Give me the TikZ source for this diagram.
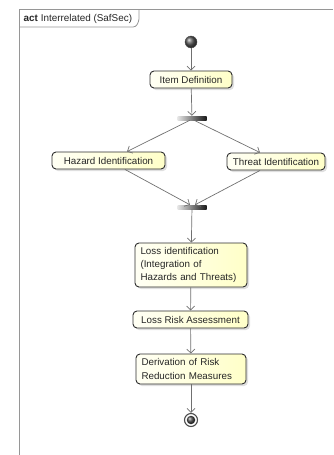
\documentclass[tikz,border=0pt]{standalone}
\usepackage{fontspec}
\setmainfont{Liberation Sans}
\usetikzlibrary{arrows.meta,shadows}
\definecolor{linegray}{RGB}{112,112,112}
\definecolor{framegray}{RGB}{150,150,150}
\definecolor{boxline}{RGB}{45,45,45}
\definecolor{boxlight}{RGB}{255,255,244}
\definecolor{boxyellow}{RGB}{255,255,200}
\tikzset{
  action/.style={draw=boxline, line width=0.9pt, rounded corners=4pt,
    left color=boxlight, right color=boxyellow,
    drop shadow={shadow xshift=2pt, shadow yshift=-2pt, opacity=0.25},
    font=\fontsize{9.8}{13.3}\selectfont, text=black!85, inner sep=0pt},
  multiline/.style={align=left, inner xsep=5.5pt},
  flow/.style={draw=linegray, line width=0.7pt, -{Straight Barb[length=4pt,width=8pt]}},
  syncbar/.style={rectangle, minimum width=29pt, minimum height=4pt, inner sep=0pt,
    left color=gray!20, middle color=gray!70, right color=black!90, draw=none},
  framestroke/.style={draw=framegray, line width=0.8pt},
}
\begin{document}
\begin{tikzpicture}[x=1pt, y=-1pt]
\useasboundingbox (0,0) rectangle (333,455);

% diagram frame with its name tab
\draw[framestroke] (19,455) -- (19,9.5) -- (333,9.5);
\draw[framestroke] (19,27) -- (133,27) to[out=0, in=-100] (139,19) -- (139,9.5);
\node[anchor=west, inner sep=0pt, font=\fontsize{9.9}{11}\selectfont, text=black!85] (title) at (23.5,18.5) {\textbf{act} Interrelated (SafSec)};

% initial node
\node[circle, minimum size=12pt, inner sep=0pt, ball color=black!65, draw=black!70, line width=0.4pt] (init) at (191,42) {};

% actions
\node[action, minimum width=82pt, minimum height=17pt] (item) at (191,79.5) {Item Definition};
\node[syncbar] (fork) at (192,118) {};
\node[action, minimum width=113pt, minimum height=17pt] (hazard) at (108.5,160.5) {Hazard Identification};
\node[action, minimum width=98pt, minimum height=17pt] (threat) at (276,161.5) {Threat Identification};
\node[syncbar] (join) at (192,207) {};
\node[action, multiline, text width=101pt, minimum height=44pt] (lossid) at (191,265)
  {Loss identification\\(Integration of\\Hazards and Threats)};
\node[action, minimum width=115pt, minimum height=17pt] (lossrisk) at (190.5,319.5) {Loss Risk Assessment};
\node[action, multiline, text width=99pt, minimum height=30pt] (derive) at (191,369)
  {Derivation of Risk\\Reduction Measures};

% final node
\node[circle, minimum size=13pt, inner sep=0pt, draw=black!70, line width=1.1pt, fill=white] (final) at (191,420) {};
\node[circle, minimum size=8.5pt, inner sep=0pt, ball color=black!70] (finaldot) at (final.center) {};

% control flows
\draw[flow] (init) -- (item);
\draw[flow] (item) -- (fork);
\draw[flow] ([xshift=-2pt]fork.south) -- ([xshift=18.5pt]hazard.north);
\draw[flow] ([xshift=2pt]fork.south) -- ([xshift=-16pt]threat.north);
\draw[flow] ([xshift=16.5pt]hazard.south) -- ([xshift=-2pt]join.north);
\draw[flow] ([xshift=-16pt]threat.south) -- ([xshift=3pt]join.north);
\draw[flow] (join) -- (lossid);
\draw[flow] (lossid) -- (lossrisk);
\draw[flow] (lossrisk) -- (derive);
\draw[flow] (derive) -- (final);
\end{tikzpicture}
\end{document}
